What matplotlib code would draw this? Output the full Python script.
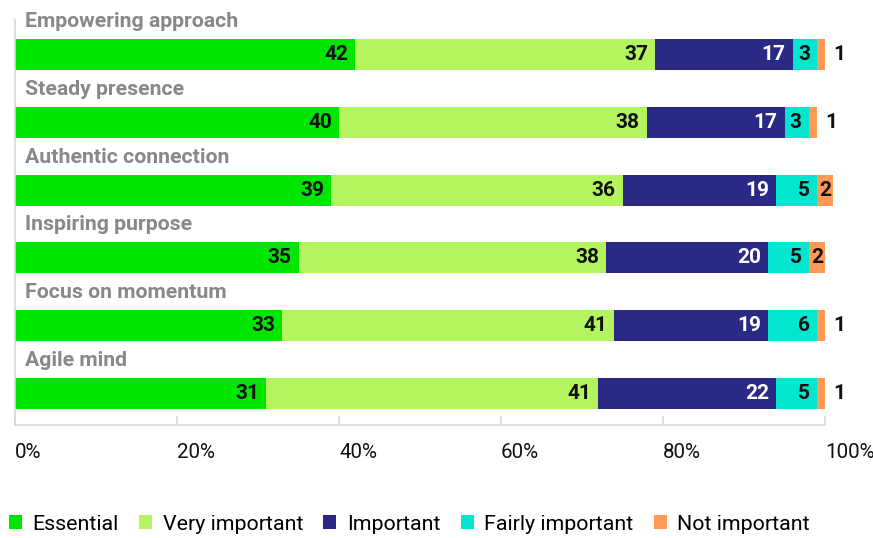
import matplotlib.pyplot as plt
from matplotlib.patches import Patch
from matplotlib.transforms import offset_copy
import numpy as np

plt.rcParams['font.family'] = ['Roboto', 'DejaVu Sans']

categories = ["Empowering approach", "Steady presence", "Authentic connection",
              "Inspiring purpose", "Focus on momentum", "Agile mind"]
series = ["Essential", "Very important", "Important", "Fairly important", "Not important"]
essential = [42, 40, 39, 35, 33, 31]
very_important = [37, 38, 36, 38, 41, 41]
important = [17, 17, 19, 20, 19, 22]
fairly_important = [3, 3, 5, 5, 6, 5]
not_important = [1, 1, 2, 2, 1, 1]
tick_vals = [0, 20, 40, 60, 80, 100]

colors = ["#00E600", "#B4F55F", "#2A2A86", "#00E6CF", "#FF9955"]
text_colors = ["#111111", "#111111", "#FFFFFF", "#111111", "#111111"]
grid_col = "#D5DADF"

fig = plt.figure(figsize=(8.73, 5.38), dpi=100)
ax = fig.add_axes([15 / 873, 1 - 425 / 538, 810 / 873, 405 / 538])

data = [essential, very_important, important, fairly_important, not_important]
y = np.arange(len(categories))
left = np.zeros(len(categories))
for s, vals in enumerate(data):
    vals = np.array(vals, dtype=float)
    bars = ax.barh(y, vals, left=left, height=0.457, color=colors[s], linewidth=0)
    for b in bars:
        b.set_clip_on(False)
    for i, v in enumerate(vals):
        end = left[i] + v
        if v <= 1:
            ax.annotate(f"{v:.0f}", xy=(end, y[i]), xytext=(8, 0), textcoords='offset pixels',
                        ha='left', va='center', fontsize=15, fontweight='bold', color="#111111")
        elif v <= 2:
            ax.annotate(f"{v:.0f}", xy=(left[i] + v / 2, y[i]), ha='center', va='center',
                        fontsize=15, fontweight='bold', color=text_colors[s])
        else:
            ax.annotate(f"{v:.0f}", xy=(end, y[i]), xytext=(-7, 0), textcoords='offset pixels',
                        ha='right', va='center', fontsize=15, fontweight='bold', color=text_colors[s])
    left += vals

# category names sit above their bars
for i, name in enumerate(categories):
    ax.annotate(name, xy=(0, y[i]), xytext=(10, 33), textcoords='offset pixels',
                ha='left', va='center', fontsize=15.3, fontweight='bold', color="#888888")

ax.set_xlim(0, 100)
ax.set_ylim(5.465, -0.509)
ax.set_yticks([])
ax.set_xticks(tick_vals)
ax.set_xticklabels([f"{t}%" for t in tick_vals])
for lab in ax.get_xticklabels():
    lab.set_horizontalalignment('left')
    lab.set_transform(offset_copy(lab.get_transform(), fig=fig, x=-6, y=0, units='dots'))
ax.tick_params(axis='x', direction='in', length=6.5, width=1.2, color=grid_col,
               pad=13, labelsize=14.8, labelcolor="#111111")
for side in ['top', 'right']:
    ax.spines[side].set_visible(False)
for side in ['left', 'bottom']:
    ax.spines[side].set_color(grid_col)
    ax.spines[side].set_linewidth(1.2)

handles = [Patch(facecolor=c, edgecolor='none') for c in colors]
fig.legend(handles, series, loc='center left', bbox_to_anchor=(9 / 873, 1 - 524 / 538),
           ncol=5, frameon=False, fontsize=15.4, handlelength=0.6, handleheight=0.6,
           handletextpad=0.5, columnspacing=0.95, borderaxespad=0, borderpad=0)

fig.savefig("out.png", dpi=100)
